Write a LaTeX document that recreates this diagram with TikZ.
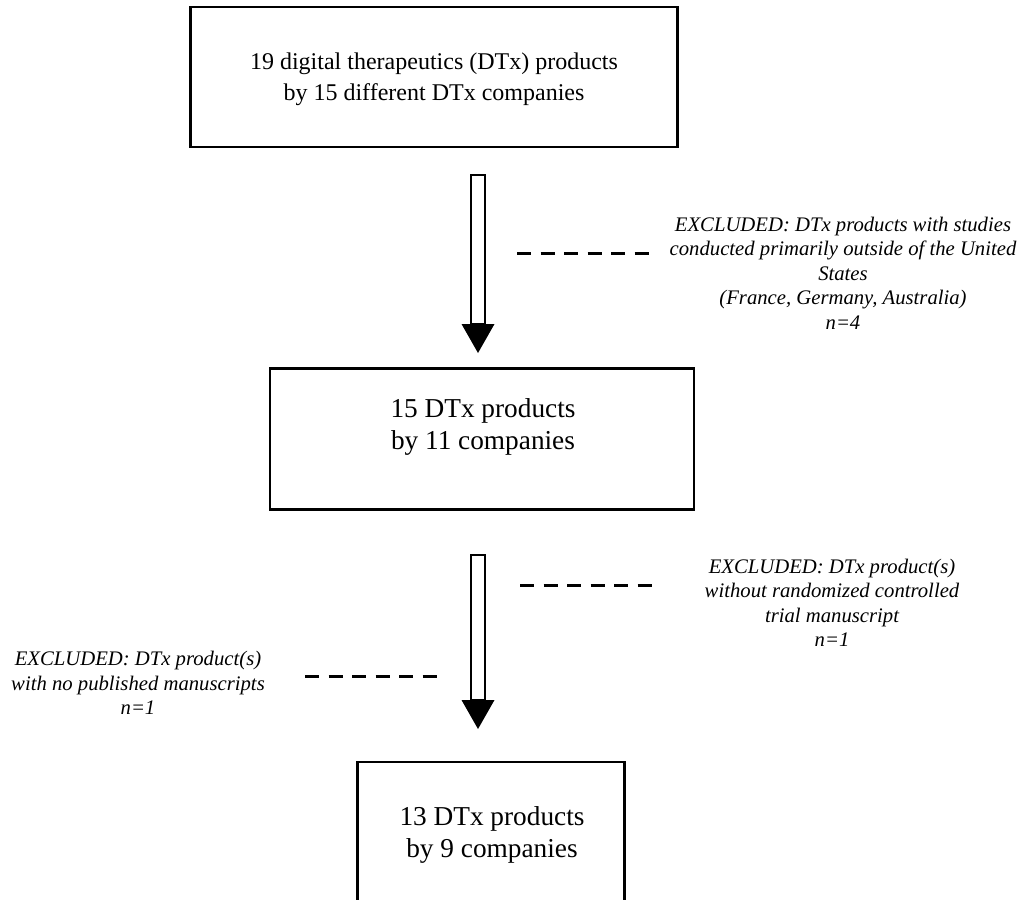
\documentclass[tikz,border=0pt]{standalone}
\usepackage{fontspec}
\setmainfont{Liberation Serif}
\begin{document}
\begin{tikzpicture}[x=1pt,y=-1pt,
  box/.style={draw=black, line width=2.5pt, fill=white, inner sep=0pt},
  maintext/.style={align=center, font=\fontsize{27.3}{32.5}\selectfont, inner sep=0pt},
  toptext/.style={align=center, font=\fontsize{24}{31}\selectfont, inner sep=0pt},
  excl/.style={align=center, font=\fontsize{20.7}{24.5}\selectfont\itshape, inner sep=0pt},
  shaft/.style={draw=black, line width=2pt, fill=white},
  head/.style={fill=black},
  dashline/.style={draw=black, line width=3pt, dash pattern=on 14pt off 9.5pt}]
\useasboundingbox (0,0) rectangle (1019,899);
\fill[white] (0,0) rectangle (1019,899);
\begin{scope}
\clip (0,0) rectangle (1019,899);
% boxes
\node[box, minimum width=487pt, minimum height=140pt] (b1) at (434,77) {};
\node[toptext] (t1) at (434,79) {19 digital therapeutics (DTx) products\\by 15 different DTx companies};
\node[box, minimum width=424pt, minimum height=141pt] (b2) at (482,439) {};
\node[maintext] (t2) at (483,427) {15 DTx products\\by 11 companies};
\node[box, minimum width=267pt, minimum height=200pt] (b3) at (491,862) {};
\node[maintext] (t3) at (492,835) {13 DTx products\\by 9 companies};
% arrow 1
\coordinate (a1s) at (478,175);
\coordinate (a1h) at (478,324);
\coordinate (a1t) at (478,353);
\draw[shaft] ([xshift=-7pt]a1s) rectangle ([xshift=7pt]a1h);
\fill[head] ([xshift=-16.5pt]a1h) -- ([xshift=16.5pt]a1h) -- (a1t) -- cycle;
% arrow 2
\coordinate (a2s) at (478,555);
\coordinate (a2h) at (478,700);
\coordinate (a2t) at (478,729);
\draw[shaft] ([xshift=-7pt]a2s) rectangle ([xshift=7pt]a2h);
\fill[head] ([xshift=-16.5pt]a2h) -- ([xshift=16.5pt]a2h) -- (a2t) -- cycle;
% dashed lines
\coordinate (d1a) at (517,253);
\coordinate (d1b) at (650,253);
\draw[dashline] (d1a) -- (d1b);
\coordinate (d2a) at (520,585);
\coordinate (d2b) at (653,585);
\draw[dashline] (d2a) -- (d2b);
\coordinate (d3a) at (305,676);
\coordinate (d3b) at (438,676);
\draw[dashline] (d3a) -- (d3b);
% exclusion texts
\node[excl] (e1) at (843,273) {EXCLUDED: DTx products with studies\\conducted primarily outside of the United\\States\\(France, Germany, Australia)\\n=4};
\node[excl] (e2) at (832,603) {EXCLUDED: DTx product(s)\\without randomized controlled\\trial manuscript\\n=1};
\node[excl] (e3) at (138,683) {EXCLUDED: DTx product(s)\\with no published manuscripts\\n=1};
\end{scope}
\end{tikzpicture}
\end{document}
